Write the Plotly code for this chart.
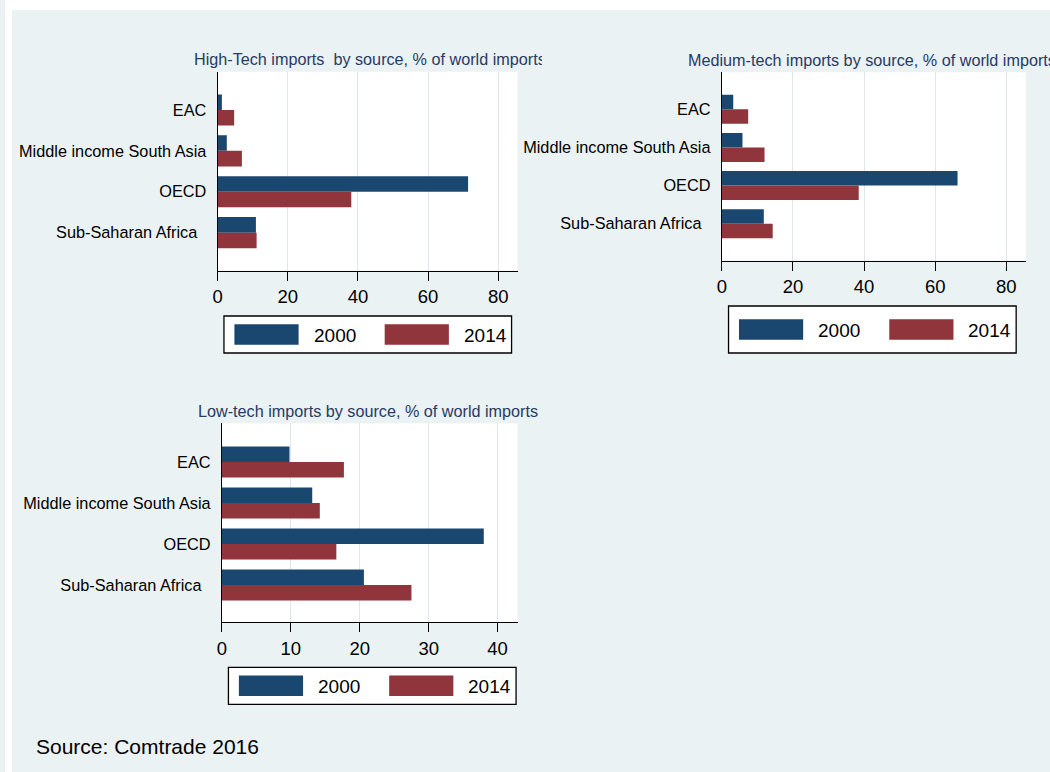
import plotly.graph_objects as go

# Canvas size in pixels
W, H = 1050, 772

# ---- data -------------------------------------------------------------
categories = ["EAC", "Middle income South Asia", "OECD", "Sub-Saharan Africa"]
category_labels = ["EAC", "Middle income South Asia", "OECD",
                   "Sub-Saharan Africa\u00a0\u00a0"]
years = ["2000", "2014"]

high_2000 = [1.2, 2.6, 71.4, 10.9]
high_2014 = [4.7, 6.9, 38.1, 11.1]

medium_2000 = [3.2, 5.8, 66.3, 11.8]
medium_2014 = [7.4, 12.0, 38.5, 14.3]

low_2000 = [9.8, 13.1, 38.0, 20.6]
low_2014 = [17.7, 14.2, 16.6, 27.5]

high_title = "High-Tech imports  by source, % of world imports"
medium_title = "Medium-tech imports by source, % of world imports"
low_title = "Low-tech imports by source, % of world imports"

ticks_share_wide = [0, 20, 40, 60, 80]
ticks_share_narrow = [0, 10, 20, 30, 40]

source_note = "Source: Comtrade 2016"

# ---- styling ------------------------------------------------------------
NAVY = "#1a476f"
MAROON = "#90353b"
REGION_BG = "#eaf2f3"
GRID = "#dde6ec"
TITLE_COLOR = "#283a66"
FONT = "Liberation Sans, Arial, Helvetica, sans-serif"
year_colors = [NAVY, MAROON]


def fx(px):
    return px / W


def fy(py):
    return 1 - py / H


# plot boxes (pixels): x0, x1, y_top, y_bottom, x-range, y-range, legend box
panels = [
    dict(series=[high_2000, high_2014], title=high_title,
         box=(213.7, 515.0, 71.7, 270.7), xrange=[0, 85.5],
         yrange=[3.93, -0.935], ticks=ticks_share_wide,
         legend=(220.0, 316.0, 353.0), title_mode="left", title_x=187.5,
         title_clip=348),
    dict(series=[medium_2000, medium_2014], title=medium_title,
         box=(720.3, 1025.7, 72.3, 260.7), xrange=[0, 85.5],
         yrange=[3.97, -0.97], ticks=ticks_share_wide,
         legend=(727.0, 306.0, 353.0), title_mode="center", title_x=871.0,
         title_clip=None),
    dict(series=[low_2000, low_2014], title=low_title,
         box=(218.0, 515.0, 423.3, 622.3), xrange=[0, 42.9],
         yrange=[3.91, -0.944], ticks=ticks_share_narrow,
         legend=(224.5, 667.3, 704.3), title_mode="center", title_x=364.5,
         title_clip=None),
]

fig = go.Figure()
shapes = []
annotations = []

# white strips along the top and left edges of the canvas
shapes.append(dict(type="rect", xref="paper", yref="paper", x0=0, x1=fx(7),
                   y0=0, y1=1, fillcolor="white", line=dict(width=0),
                   layer="below"))
shapes.append(dict(type="rect", xref="paper", yref="paper", x0=0, x1=1,
                   y0=fy(10), y1=1, fillcolor="white", line=dict(width=0),
                   layer="below"))

layout_axes = {}
for i, p in enumerate(panels):
    n = "" if i == 0 else str(i + 1)
    xa, ya = "x" + n, "y" + n
    x0, x1, yt, yb = p["box"]

    for year, vals, col in zip(years, p["series"], year_colors):
        fig.add_trace(go.Bar(
            x=vals, y=categories, orientation="h", name=year,
            marker=dict(color=col, line=dict(width=0)),
            xaxis=xa, yaxis=ya, showlegend=False,
        ))

    layout_axes["xaxis" + n] = dict(
        domain=[fx(x0), fx(x1)], anchor=ya, range=p["xrange"],
        tickmode="array", tickvals=p["ticks"],
        ticktext=[str(t) for t in p["ticks"]],
        ticks="outside", ticklen=9, tickwidth=1.2, tickcolor="black",
        showline=True, linecolor="black", linewidth=1.2,
        showgrid=True, gridcolor=GRID, gridwidth=1.3, zeroline=False,
        tickfont=dict(family=FONT, size=18.5, color="black"),
        fixedrange=True,
    )
    layout_axes["yaxis" + n] = dict(
        domain=[fy(yb), fy(yt)], anchor=xa, type="category",
        range=p["yrange"], tickmode="array", tickvals=categories,
        ticktext=category_labels, ticks="", showline=True,
        linecolor="black", linewidth=1.2, showgrid=False, zeroline=False,
        tickfont=dict(family=FONT, size=16.3, color="black"),
        ticklabelstandoff=7, fixedrange=True,
    )

    # panel title
    title_ann = dict(
        text=p["title"], xref="paper", yref="paper", showarrow=False,
        y=fy(yt - 1.5), yanchor="bottom",
        font=dict(family=FONT, size=16.2, color=TITLE_COLOR),
    )
    if p["title_mode"] == "left":
        title_ann.update(x=fx(p["title_x"]), xanchor="left", align="left",
                         width=p["title_clip"])
    else:
        title_ann.update(x=fx(p["title_x"]), xanchor="center")
    annotations.append(title_ann)

    # legend: framed box with large colour swatches
    lx, ltop, lbot = p["legend"]
    shapes.append(dict(type="rect", xref="paper", yref="paper",
                       x0=fx(lx), x1=fx(lx + 289), y0=fy(lbot), y1=fy(ltop),
                       fillcolor="white", line=dict(color="black", width=1.3)))
    mid = (ltop + lbot) / 2
    sw_h = 20.5
    for k, (year, col) in enumerate(zip(years, year_colors)):
        sx = lx + 10.5 + k * 151.0
        shapes.append(dict(type="rect", xref="paper", yref="paper",
                           x0=fx(sx), x1=fx(sx + 64.5),
                           y0=fy(mid + sw_h / 2), y1=fy(mid - sw_h / 2),
                           fillcolor=col, line=dict(width=0)))
        annotations.append(dict(
            text=year, xref="paper", yref="paper", showarrow=False,
            x=fx(sx + 77.5), xanchor="left", y=fy(mid + 0.5), yanchor="middle",
            font=dict(family=FONT, size=19, color="black"),
        ))

# source note
annotations.append(dict(
    text=source_note, xref="paper", yref="paper", showarrow=False,
    x=fx(29), xanchor="left", y=fy(746.2), yanchor="middle",
    font=dict(family=FONT, size=21, color="black"),
))

fig.update_layout(
    width=W, height=H, margin=dict(l=0, r=0, t=0, b=0, pad=0),
    paper_bgcolor=REGION_BG, plot_bgcolor="white",
    barmode="group", bargap=0.24, bargroupgap=0,
    shapes=shapes, annotations=annotations,
    font=dict(family=FONT), showlegend=False,
    **layout_axes,
)

fig.write_html("out.html", config={"displayModeBar": False})
